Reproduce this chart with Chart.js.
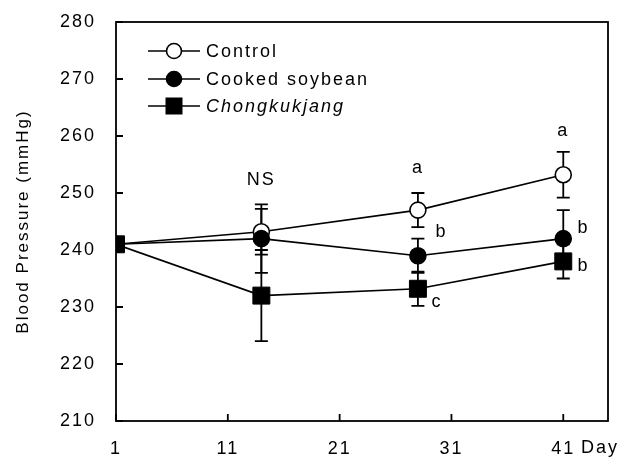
<!DOCTYPE html>
<html lang="en">
<head>
  <meta charset="UTF-8">
  <title>Blood Pressure</title>
  <script src="https://cdn.jsdelivr.net/npm/chart.js"></script>
  <style>
    html, body { margin: 0; padding: 0; background: #fff; }
    #wrap { width: 635px; height: 457px; }
  </style>
</head>
<body>
  <div id="wrap"><canvas id="bp-chart" width="635" height="457"></canvas></div>

  <script>
    // Data
    const days = [1, 14, 28, 41];
    const controlValues = [241, 243.2, 247, 253.2];
    const controlErrors = [0, 4, 3, 4];
    const soybeanValues = [241, 242, 239, 242];
    const soybeanErrors = [0, 6, 3, 5];
    const chongValues = [241, 232, 233.2, 238];
    const chongErrors = [0, 8, 3, 3];

    const xTicks = [1, 11, 21, 31, 41];
    const yTicks = [210, 220, 230, 240, 250, 260, 270, 280];

    // significance letters
    const letterLabels = ['NS', 'a', 'a', 'b', 'b', 'b', 'c'];
    const letterDays = [14, 28, 41, 30.1, 42.8, 42.8, 29.7];
    const letterValues = [252.2, 254.4, 260.8, 243.2, 243.9, 237.2, 230.9];

    const FONT = "'Liberation Sans', Arial, sans-serif";
    const fontSpec = { family: FONT, size: 18 };

    const toPoints = (vals) => days.map((d, i) => ({ x: d, y: vals[i] }));

    const datasets = [
      {
        label: 'Control',
        data: toPoints(controlValues),
        errors: controlErrors,
        borderColor: '#000',
        borderWidth: 1.6,
        pointStyle: 'circle',
        pointRadius: 8,
        pointBackgroundColor: '#fff',
        pointBorderColor: '#000',
        pointBorderWidth: 1.6,
        italic: false,
        order: 3
      },
      {
        label: 'Cooked soybean',
        data: toPoints(soybeanValues),
        errors: soybeanErrors,
        borderColor: '#000',
        borderWidth: 1.6,
        pointStyle: 'circle',
        pointRadius: 8,
        pointBackgroundColor: '#000',
        pointBorderColor: '#000',
        pointBorderWidth: 1.6,
        italic: false,
        order: 2
      },
      {
        label: 'Chongkukjang',
        data: toPoints(chongValues),
        errors: chongErrors,
        borderColor: '#000',
        borderWidth: 1.6,
        pointStyle: 'rect',
        pointRadius: 12,
        pointBackgroundColor: '#000',
        pointBorderColor: '#000',
        pointBorderWidth: 1,
        italic: true,
        order: 1
      }
    ];

    // spacing of letters like the scanned figure
    const spacingPlugin = {
      id: 'spacing',
      beforeDraw(chart) {
        chart.ctx.letterSpacing = '2px';
      }
    };

    // error bars behind the markers
    const errorBarPlugin = {
      id: 'errorBars',
      beforeDatasetsDraw(chart) {
        const ctx = chart.ctx;
        const xs = chart.scales.x, ys = chart.scales.y;
        ctx.save();
        ctx.strokeStyle = '#000';
        ctx.lineWidth = 1.8;
        chart.data.datasets.forEach(ds => {
          ds.data.forEach((p, i) => {
            const e = ds.errors[i];
            if (!e) return;
            const x = xs.getPixelForValue(p.x);
            const top = ys.getPixelForValue(p.y + e);
            const bot = ys.getPixelForValue(p.y - e);
            ctx.beginPath();
            ctx.moveTo(x, top); ctx.lineTo(x, bot);
            ctx.moveTo(x - 6.5, top); ctx.lineTo(x + 6.5, top);
            ctx.moveTo(x - 6.5, bot); ctx.lineTo(x + 6.5, bot);
            ctx.stroke();
          });
        });
        ctx.restore();
      }
    };

    // frame, inward ticks, letters, legend, "Day"
    const decorPlugin = {
      id: 'decor',
      afterDraw(chart) {
        const ctx = chart.ctx;
        const a = chart.chartArea;
        const xs = chart.scales.x, ys = chart.scales.y;
        ctx.save();
        ctx.strokeStyle = '#000';
        ctx.lineWidth = 1.8;
        ctx.strokeRect(a.left, a.top, a.right - a.left, a.bottom - a.top);

        ctx.beginPath();
        yTicks.forEach(v => {
          const y = ys.getPixelForValue(v);
          ctx.moveTo(a.left, y); ctx.lineTo(a.left + 7, y);
        });
        xTicks.forEach(v => {
          const x = xs.getPixelForValue(v);
          ctx.moveTo(x, a.bottom); ctx.lineTo(x, a.bottom - 7);
        });
        ctx.stroke();

        ctx.fillStyle = '#000';
        ctx.font = '18px ' + FONT;
        ctx.textAlign = 'center';
        ctx.textBaseline = 'middle';
        letterLabels.forEach((t, i) => {
          ctx.fillText(t, xs.getPixelForValue(letterDays[i]), ys.getPixelForValue(letterValues[i]));
        });

        ctx.textAlign = 'left';
        ctx.fillText('Day', 581, 448);

        // legend
        const rows = [51, 79, 106];
        chart.data.datasets.forEach((ds, i) => {
          const y = rows[i];
          ctx.beginPath();
          ctx.lineWidth = 1.6;
          ctx.moveTo(148, y); ctx.lineTo(200, y);
          ctx.stroke();
          ctx.beginPath();
          if (ds.pointStyle === 'rect') {
            ctx.rect(174 - 8.5, y - 8.5, 17, 17);
            ctx.fill();
          } else {
            ctx.arc(174, y, 7.5, 0, Math.PI * 2);
            ctx.fillStyle = ds.pointBackgroundColor;
            ctx.fill();
            ctx.stroke();
            ctx.fillStyle = '#000';
          }
          ctx.font = (ds.italic ? 'italic ' : '') + '18px ' + FONT;
          ctx.fillText(ds.label, 206, y + 1);
        });
        ctx.restore();
      }
    };

    new Chart(document.getElementById('bp-chart'), {
      type: 'line',
      data: { datasets },
      options: {
        responsive: false,
        animation: false,
        devicePixelRatio: 1,
        layout: { padding: { top: 22, right: 27, left: 0, bottom: 0 } },
        plugins: { legend: { display: false }, tooltip: { enabled: false } },
        scales: {
          x: {
            type: 'linear',
            min: 1,
            max: 45,
            afterBuildTicks: s => { s.ticks = xTicks.map(v => ({ value: v })); },
            afterFit: s => { s.height = 36; s.paddingLeft = 0; s.paddingRight = 0; },
            grid: { display: false, drawTicks: false },
            border: { display: false },
            ticks: { color: '#000', font: fontSpec, padding: 17, maxRotation: 0, autoSkip: false }
          },
          y: {
            min: 210,
            max: 280,
            afterBuildTicks: s => { s.ticks = yTicks.map(v => ({ value: v })); },
            afterFit: s => { s.width = 116; s.paddingTop = 0; s.paddingBottom = 0; },
            grid: { display: false, drawTicks: false },
            border: { display: false },
            ticks: { color: '#000', font: fontSpec, padding: 20 },
            title: {
              display: true,
              text: 'Blood Pressure (mmHg)',
              color: '#000',
              font: { family: FONT, size: 17 },
              padding: { top: 13, bottom: 0 }
            }
          }
        }
      },
      plugins: [spacingPlugin, errorBarPlugin, decorPlugin]
    });
  </script>
</body>
</html>
